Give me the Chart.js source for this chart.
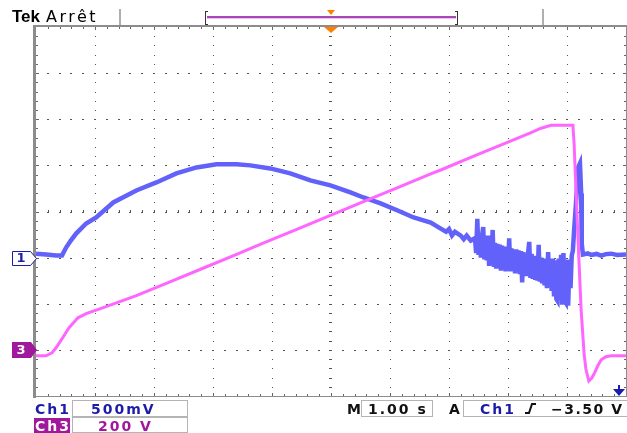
<!DOCTYPE html>
<html>
<head>
<meta charset="utf-8">
<script src="https://cdn.jsdelivr.net/npm/chart.js@4"></script>
<style>
  html, body { margin: 0; padding: 0; background: #fff; }
  canvas { display: block; }
</style>
</head>
<body>
<canvas id="scope" width="627" height="433"></canvas>
<script>
// Channel 1 trace (seconds, volts)
const ch1Time = [0.00, 0.17, 0.34, 0.44, 0.51, 0.59, 0.68, 0.85, 1.02, 1.31, 1.70, 2.04, 2.38, 2.72, 3.06,
  3.40, 3.63, 3.97, 4.31, 4.65, 4.99, 5.33, 5.55, 5.84, 6.13, 6.40, 6.69, 6.86, 6.95, 7.00,
  7.05, 7.10, 7.20, 7.25, 7.30, 7.37,
  7.44, 7.46, 7.48, 7.50, 7.52, 7.54, 7.56, 7.58, 7.60, 7.62,
  7.64, 7.66, 7.68, 7.70, 7.72, 7.74, 7.76, 7.78, 7.80, 7.82,
  7.84, 7.86, 7.88, 7.90, 7.92, 7.94, 7.96, 7.98, 8.00, 8.02,
  8.04, 8.06, 8.08, 8.10, 8.12, 8.14, 8.16, 8.18, 8.20, 8.22,
  8.24, 8.26, 8.28, 8.30, 8.32, 8.34, 8.36, 8.38, 8.40, 8.42,
  8.44, 8.46, 8.48, 8.50, 8.52, 8.54, 8.56, 8.58, 8.60, 8.62,
  8.64, 8.66, 8.68, 8.70, 8.72, 8.74, 8.76, 8.78, 8.80, 8.82,
  8.84, 8.86, 8.88, 8.90, 8.92, 8.94, 8.96, 8.98, 9.00, 9.02,
  9.04, 9.06, 9.08,
  9.10, 9.12, 9.15, 9.19, 9.22, 9.24, 9.25, 9.27, 9.35, 9.41, 9.50, 9.58, 9.66, 9.75, 9.85, 10.0];
const ch1Volts = [0.043, 0.033, 0.022, 0.022, 0.109, 0.185, 0.261, 0.370, 0.435, 0.598, 0.728, 0.815, 0.913, 0.978, 1.011,
  1.011, 1.000, 0.967, 0.913, 0.837, 0.783, 0.707, 0.652, 0.587, 0.511, 0.435, 0.380, 0.315, 0.28, 0.31,
  0.24, 0.28, 0.239, 0.20, 0.24, 0.185,
  0.21, 0.05, 0.42, 0.03, 0.20, 0.00, 0.24, 0.33, -0.02, 0.19,
  -0.03, 0.24, -0.09, 0.18, -0.04, 0.30, -0.10, 0.16, -0.12, 0.15,
  -0.10, 0.14, -0.14, 0.13, -0.11, 0.12, -0.15, 0.11, -0.13, 0.21,
  -0.15, 0.10, -0.13, 0.09, -0.17, 0.09, -0.15, 0.08, -0.18, 0.07,
  -0.27, 0.06, -0.20, 0.04, -0.20, 0.05, 0.17, -0.22, 0.04, -0.23,
  0.02, -0.24, 0.01, -0.25, 0.14, -0.26, 0.00, -0.28, -0.01, -0.30,
  -0.02, -0.33, 0.06, -0.31, -0.03, -0.36, -0.01, -0.42, -0.03, -0.45,
  -0.47, -0.01, -0.42, 0.03, -0.51, 0.05, -0.47, -0.49, -0.02, -0.52,
  -0.05, -0.33, 0.02,
  0.076, 0.293, 0.565, 0.978, 1.022, 0.696, 0.152, 0.033, 0.045, 0.030, 0.040, 0.022, 0.038, 0.043, 0.028, 0.033];

// Channel 3 trace (seconds, volts)
const ch3Time = [0.00, 0.17, 0.27, 0.34, 0.44, 0.56, 0.71, 0.85, 1.14, 1.70, 2.26, 2.84, 3.40, 3.85, 4.43,
  4.99, 5.55, 6.13, 6.69, 6.86, 7.42, 8.00, 8.39, 8.56, 8.73, 9.10, 9.12, 9.19, 9.24, 9.29,
  9.32, 9.37, 9.42, 9.46, 9.52, 9.58, 9.66, 9.75, 10.0];
const ch3Volts = [-26, -26, -13, 9, 48, 96, 139, 157, 183, 235, 294, 355, 414, 463, 524,
  583, 643, 704, 763, 780, 840, 901, 942, 961, 974, 974, 896, 461, 170, -17,
  -83, -135, -122, -104, -70, -43, -30, -26, -26];

// scope settings
const ch1VoltsPerDiv = 0.5, ch1GroundDiv = -1;
const ch3VoltsPerDiv = 200, ch3GroundDiv = -3;
const secPerDiv = 1;
const statusCh1 = ['Ch1', '500mV'];
const statusCh3 = ['Ch3', '200 V'];
const statusTime = ['M', '1.00 s'];
const statusTrig = ['A', 'Ch1', '\u22123.50 V'];

const BLUE = 'rgb(98,98,250)';
const PINK = 'rgb(255,102,255)';
const DARKBLUE = '#1c1ca8';
const PURPLE = '#a0189c';

function toDivs(times, volts, vpd, ground) {
  return times.map((t, i) => ({ x: t / secPerDiv, y: volts[i] / vpd + ground }));
}

const scopeGrid = {
  id: 'scopeGrid',
  beforeDraw(chart) {
    const ctx = chart.ctx;
    ctx.save();
    ctx.fillStyle = '#fff';
    ctx.fillRect(0, 0, chart.width, chart.height);
    ctx.restore();
  },
  beforeDatasetsDraw(chart) {
    const { ctx, chartArea: a, scales: { x, y } } = chart;
    ctx.save();
    ctx.fillStyle = '#555';
    // vertical dotted lines
    for (let i = 1; i < 10; i++) {
      const px = Math.round(x.getPixelForValue(i));
      for (let j = 1; j < 40; j++) {
        const py = Math.round(y.getPixelForValue(-4 + j * 0.2));
        ctx.fillRect(px, py, 1, 1);
      }
    }
    // horizontal dotted lines
    for (let k = -3; k <= 3; k++) {
      const py = Math.round(y.getPixelForValue(k));
      for (let j = 1; j < 50; j++) {
        const px = Math.round(x.getPixelForValue(j * 0.2));
        ctx.fillRect(px - 1, py, 2, 1);
      }
    }
    // centre cross minor ticks
    const cx = Math.round(x.getPixelForValue(5)), cy = Math.round(y.getPixelForValue(0));
    for (let j = 1; j < 50; j++) {
      const px = Math.round(x.getPixelForValue(j * 0.2));
      ctx.fillRect(px, cy - 2, 1, 2);
    }
    for (let j = 1; j < 40; j++) {
      const py = Math.round(y.getPixelForValue(-4 + j * 0.2));
      ctx.fillRect(cx - 2, py, 2, 1);
    }
    // frame
    ctx.fillStyle = '#8c8c8c';
    ctx.fillRect(a.left - 3, a.top - 2, a.right - a.left + 4, 2);
    ctx.fillRect(a.left - 3, a.top - 2, 3, a.bottom - a.top + 4);
    ctx.fillRect(a.left - 3, a.bottom, a.right - a.left + 4, 1);
    ctx.fillRect(a.right, a.top - 2, 1, a.bottom - a.top + 3);
    // ruler ticks along the frame
    ctx.fillStyle = '#666';
    for (let j = 1; j < 50; j++) {
      const px = Math.round(x.getPixelForValue(j * 0.2));
      const len = j % 5 === 0 ? 3 : 2;
      ctx.fillRect(px, a.top, 1, len);
      ctx.fillRect(px, a.bottom - len, 1, len);
    }
    for (let j = 1; j < 40; j++) {
      const py = Math.round(y.getPixelForValue(-4 + j * 0.2));
      const len = j % 5 === 0 ? 3 : 2;
      ctx.fillRect(a.left, py, len, 1);
      ctx.fillRect(a.right - len, py, len, 1);
    }
    ctx.restore();
  },
  afterDraw(chart) {
    const { ctx, chartArea: a, scales: { x, y } } = chart;
    ctx.save();
    ctx.textBaseline = 'alphabetic';
    // header
    ctx.fillStyle = '#000';
    ctx.font = 'bold 17px "Liberation Sans", Arial, sans-serif';
    ctx.fillText('Tek', 12, 22);
    ctx.font = '16px "DejaVu Sans", sans-serif';
    ctx.letterSpacing = '2.5px';
    ctx.fillText('Arr\u00eat', 46, 22);
    ctx.letterSpacing = '0px';
    ctx.fillStyle = '#b0b0b0';
    ctx.fillRect(119, 9, 2, 16);
    ctx.fillRect(542, 9, 2, 16);
    // record view bar
    ctx.fillStyle = '#333';
    ctx.fillRect(205, 11, 1, 14);
    ctx.fillRect(205, 11, 3, 1);
    ctx.fillRect(205, 24, 3, 1);
    ctx.fillRect(457, 11, 1, 14);
    ctx.fillRect(455, 11, 3, 1);
    ctx.fillRect(455, 24, 3, 1);
    ctx.fillStyle = '#a848b8';
    ctx.fillRect(207, 16, 249, 2);
    ctx.fillStyle = '#ecbcec';
    ctx.fillRect(207, 18, 249, 1);
    // orange trigger position markers
    const tx = Math.round(x.getPixelForValue(5));
    ctx.fillStyle = '#ff8000';
    ctx.beginPath();
    ctx.moveTo(tx - 4, 10); ctx.lineTo(tx + 4, 10); ctx.lineTo(tx, 15); ctx.closePath(); ctx.fill();
    ctx.beginPath();
    ctx.moveTo(tx - 7, a.top); ctx.lineTo(tx + 7, a.top); ctx.lineTo(tx, a.top + 6); ctx.closePath(); ctx.fill();
    // trigger level arrow
    ctx.fillStyle = DARKBLUE;
    ctx.beginPath();
    ctx.moveTo(a.right - 13, a.bottom - 7); ctx.lineTo(a.right - 1, a.bottom - 7); ctx.lineTo(a.right - 7, a.bottom); ctx.closePath(); ctx.fill();
    ctx.fillRect(a.right - 8, a.bottom - 11, 2, 4);

    // channel ground markers
    const g1 = Math.round(y.getPixelForValue(ch1GroundDiv));
    const g3 = Math.round(y.getPixelForValue(ch3GroundDiv));
    ctx.lineWidth = 1;
    ctx.beginPath();
    ctx.moveTo(12.5, g1 - 6.5); ctx.lineTo(30.5, g1 - 6.5); ctx.lineTo(36.5, g1 + 0.5);
    ctx.lineTo(30.5, g1 + 7.5); ctx.lineTo(12.5, g1 + 7.5); ctx.closePath();
    ctx.fillStyle = '#fff'; ctx.fill();
    ctx.strokeStyle = DARKBLUE; ctx.stroke();
    ctx.beginPath();
    ctx.moveTo(12, g3 - 8); ctx.lineTo(31, g3 - 8); ctx.lineTo(37, g3); ctx.lineTo(31, g3 + 8); ctx.lineTo(12, g3 + 8); ctx.closePath();
    ctx.fillStyle = PURPLE; ctx.fill();
    ctx.font = 'bold 13px "DejaVu Sans", sans-serif';
    ctx.textAlign = 'center';
    ctx.textBaseline = 'middle';
    ctx.fillStyle = DARKBLUE; ctx.fillText('1', 21, g1 + 1);
    ctx.fillStyle = '#fff'; ctx.fillText('3', 21, g3 + 1);

    // status area
    ctx.textAlign = 'left';
    ctx.textBaseline = 'alphabetic';
    ctx.letterSpacing = '2px';
    ctx.font = 'bold 14px "DejaVu Sans", sans-serif';
    ctx.strokeStyle = '#b4b4b4';
    ctx.strokeRect(72.5, 400.5, 115, 16);
    ctx.strokeRect(72.5, 417.5, 115, 15);
    ctx.strokeRect(361.5, 400.5, 71, 16);
    ctx.strokeRect(463.5, 400.5, 170, 16);
    ctx.fillStyle = DARKBLUE;
    ctx.fillText(statusCh1[0], 35, 414);
    ctx.fillText(statusCh1[1], 91, 414);
    ctx.fillStyle = PURPLE;
    ctx.fillRect(34, 418, 36, 15);
    ctx.fillText(statusCh3[1], 98, 431);
    ctx.fillStyle = '#fff';
    ctx.fillText(statusCh3[0], 35, 431);
    ctx.fillStyle = '#111';
    ctx.fillText(statusTime[0], 347, 414);
    ctx.fillText(statusTime[1], 368, 414);
    ctx.fillText(statusTrig[0], 449, 414);
    ctx.fillStyle = DARKBLUE;
    ctx.fillText(statusTrig[1], 480, 414);
    ctx.fillStyle = '#111';
    ctx.letterSpacing = '1.5px';
    ctx.fillText(statusTrig[2], 551, 414);
    // rising edge glyph
    ctx.strokeStyle = '#111';
    ctx.lineWidth = 2;
    ctx.beginPath();
    ctx.moveTo(525, 413); ctx.lineTo(529, 413); ctx.lineTo(532, 404); ctx.lineTo(536, 404);
    ctx.stroke();
    ctx.restore();
  }
};

new Chart(document.getElementById('scope'), {
  type: 'line',
  data: {
    datasets: [{
      label: 'Ch1',
      data: toDivs(ch1Time, ch1Volts, ch1VoltsPerDiv, ch1GroundDiv),
      borderColor: BLUE,
      borderWidth: 4.5,
      pointRadius: 0,
      tension: 0,
      order: 2
    }, {
      label: 'Ch3',
      data: toDivs(ch3Time, ch3Volts, ch3VoltsPerDiv, ch3GroundDiv),
      borderColor: PINK,
      borderWidth: 3,
      pointRadius: 0,
      tension: 0,
      order: 1
    }]
  },
  options: {
    responsive: false,
    devicePixelRatio: 1,
    animation: false,
    layout: { padding: { left: 36, top: 27, right: 1, bottom: 37 } },
    scales: {
      x: { type: 'linear', min: 0, max: 10, display: false },
      y: { type: 'linear', min: -4, max: 4, display: false }
    },
    plugins: { legend: { display: false }, tooltip: { enabled: false } }
  },
  plugins: [scopeGrid]
});
</script>
</body>
</html>
